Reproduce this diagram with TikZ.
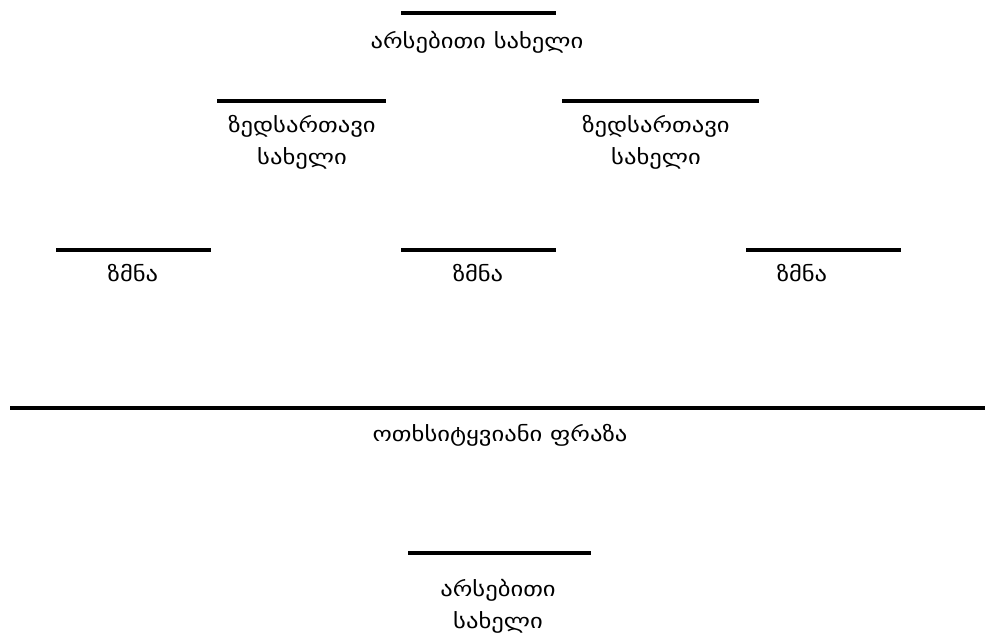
\documentclass[tikz,border=0pt]{standalone}
\usepackage{fontspec}
\newfontfamily\geofont[FakeStretch=1.2]{DejaVu Sans}
\begin{document}
\begin{tikzpicture}[x=1pt,y=-1pt,
  bar/.style={line width=4pt},
  lbl/.style={font=\geofont\fontsize{20.5}{32}\selectfont, align=center, inner sep=0pt}]
\useasboundingbox (0,0) rectangle (985,639);
% lines
\coordinate (a1) at (401,13); \coordinate (a2) at (556,13);
\coordinate (b1) at (217,101); \coordinate (b2) at (386,101);
\coordinate (c1) at (562,101); \coordinate (c2) at (759,101);
\coordinate (d1) at (56,250); \coordinate (d2) at (211,250);
\coordinate (e1) at (401,250); \coordinate (e2) at (556,250);
\coordinate (f1) at (746,250); \coordinate (f2) at (901,250);
\coordinate (g1) at (10,408); \coordinate (g2) at (985,408);
\coordinate (h1) at (408,553); \coordinate (h2) at (591,553);
\foreach \p in {a,b,c,d,e,f,g,h} \draw[bar] (\p1) -- (\p2);
% labels
\node[lbl] (ta) at (477,42) {არსებითი სახელი};
\node[lbl] (tb) at (302,142) {ზედსართავი\\სახელი};
\node[lbl] (tc) at (656,142) {ზედსართავი\\სახელი};
\node[lbl] (td) at (133,273) {ზმნა};
\node[lbl] (te) at (478,273) {ზმნა};
\node[lbl] (tf) at (802,273) {ზმნა};
\node[lbl] (tg) at (500,435) {ოთხსიტყვიანი ფრაზა};
\node[lbl] (th) at (498,606) {არსებითი\\სახელი};
\end{tikzpicture}
\end{document}
